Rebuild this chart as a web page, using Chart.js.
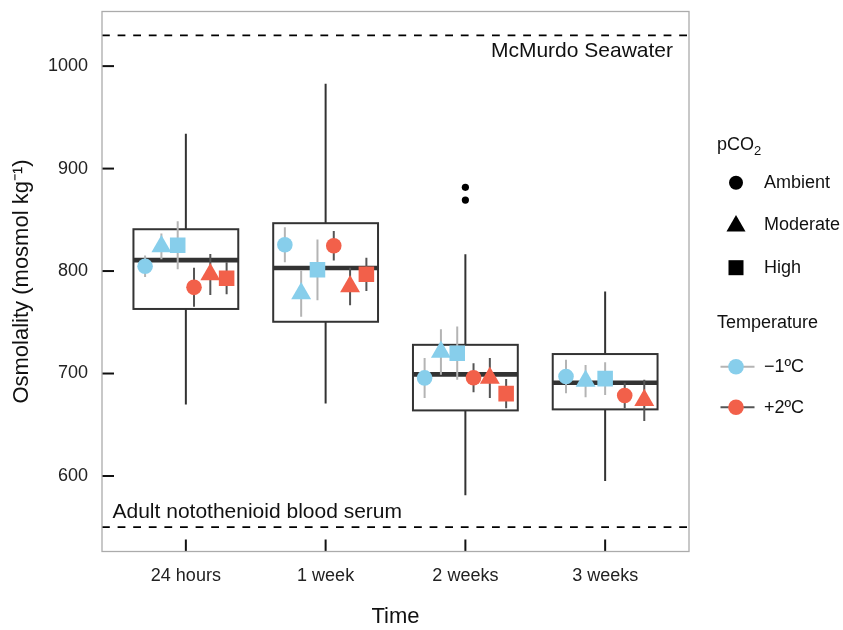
<!DOCTYPE html>
<html><head><meta charset="utf-8">
<script src="https://cdn.jsdelivr.net/npm/chart.js@4.4.0/dist/chart.umd.min.js"></script>
<style>html,body{margin:0;padding:0;background:#fff;}#wrap{width:843px;height:630px;position:relative;}</style>
</head><body><div id="wrap"><canvas id="c" width="843" height="630"></canvas></div>
<script>
// ---- data ----
const timeLabels = ['24 hours', '1 week', '2 weeks', '3 weeks'];
const boxLower   = [763.0, 750.5, 664.0, 665.0];
const boxMedian  = [810.7, 803.0, 699.2, 691.0];
const boxUpper   = [840.8, 846.7, 728.0, 719.0];
const whiskerLow = [669.7, 670.7, 581.2, 595.0];
const whiskerHigh= [934.0, 982.8, 816.5, 780.0];
const outlierValues = [[], [], [881.7, 869.3], []];
const seawaterLevel = 1030;
const serumLevel = 550;
const yTickValues = [600, 700, 800, 900, 1000];

const coldAmbientMean  = [804.7, 825.7, 695.7, 697.1];
const coldAmbientErr   = [10.5, 17.0, 19.5, 16.4];
const coldModerateMean = [824.0, 778.0, 721.1, 692.6];
const coldModerateErr  = [12.6, 22.7, 22.2, 15.7];
const coldHighMean     = [825.2, 801.2, 719.8, 695.0];
const coldHighErr      = [23.5, 29.6, 26.0, 15.9];
const warmAmbientMean  = [784.1, 824.7, 695.8, 678.5];
const warmAmbientErr   = [19.0, 14.3, 14.1, 12.4];
const warmModerateMean = [796.7, 784.9, 695.7, 673.8];
const warmModerateErr  = [20.0, 18.3, 19.5, 20.2];
const warmHighMean     = [793.0, 796.8, 680.4, null];
const warmHighErr      = [15.7, 16.2, 14.3, null];

// ---- styling ----
const FONT = "'Liberation Sans', Arial, Helvetica, sans-serif";
const BLUE = '#87CEEB', RED = '#F2604A';
const BLUE_BAR = '#B4B4B4', RED_BAR = '#555555';
const shapeRadius = {circle: 7.8, triangle: 11.5, rect: 11};

const series = [
  {mean: coldAmbientMean,  err: coldAmbientErr,  shape: 'circle',   color: BLUE, bar: BLUE_BAR},
  {mean: coldModerateMean, err: coldModerateErr, shape: 'triangle', color: BLUE, bar: BLUE_BAR},
  {mean: coldHighMean,     err: coldHighErr,     shape: 'rect',     color: BLUE, bar: BLUE_BAR},
  {mean: warmAmbientMean,  err: warmAmbientErr,  shape: 'circle',   color: RED,  bar: RED_BAR},
  {mean: warmModerateMean, err: warmModerateErr, shape: 'triangle', color: RED,  bar: RED_BAR},
  {mean: warmHighMean,     err: warmHighErr,     shape: 'rect',     color: RED,  bar: RED_BAR}
];

// dodge positions (width 0.7) among non-missing series in each group
const DODGE = 0.7;
const seriesPoints = series.map(() => []);
timeLabels.forEach((lab, g) => {
  const present = series.map((s, i) => s.mean[g] == null ? -1 : i).filter(i => i >= 0);
  const n = present.length;
  present.forEach((si, k) => {
    const s = series[si];
    seriesPoints[si].push({x: g + 1 + (k - (n - 1) / 2) * DODGE / n, y: s.mean[g], err: s.err[g]});
  });
});

const datasets = series.map((s, i) => ({
  type: 'scatter',
  data: seriesPoints[i],
  pointStyle: s.shape,
  pointRadius: shapeRadius[s.shape],
  pointHoverRadius: shapeRadius[s.shape],
  backgroundColor: s.color,
  borderWidth: 0,
  errColor: s.bar
}));
const outlierData = [];
outlierValues.forEach((arr, g) => arr.forEach(v => outlierData.push({x: g + 1, y: v})));
datasets.unshift({type: 'scatter', data: outlierData, pointStyle: 'circle', pointRadius: 3.6,
  backgroundColor: '#000', borderWidth: 0});

const decor = {
  id: 'decor',
  beforeDatasetsDraw(chart) {
    const ctx = chart.ctx, xs = chart.scales.x, ys = chart.scales.y, a = chart.chartArea;
    ctx.save();
    ctx.beginPath(); ctx.rect(a.left, a.top, a.right - a.left, a.bottom - a.top); ctx.clip();
    // reference lines
    ctx.strokeStyle = '#000'; ctx.lineWidth = 1.8; ctx.setLineDash([7.8, 7.8]);
    [seawaterLevel, serumLevel].forEach(v => {
      const y = ys.getPixelForValue(v);
      ctx.beginPath(); ctx.moveTo(a.left, y); ctx.lineTo(a.right, y); ctx.stroke();
    });
    ctx.setLineDash([]);
    ctx.fillStyle = '#111'; ctx.font = '21px ' + FONT; ctx.textBaseline = 'alphabetic';
    ctx.textAlign = 'right';
    ctx.fillText('McMurdo Seawater', a.right - 16, ys.getPixelForValue(seawaterLevel) + 21.5);
    ctx.textAlign = 'left';
    ctx.fillText('Adult notothenioid blood serum', a.left + 10.5, ys.getPixelForValue(serumLevel) - 9.5);
    // boxplots
    ctx.strokeStyle = '#333';
    timeLabels.forEach((lab, g) => {
      const cx = xs.getPixelForValue(g + 1);
      const hw = xs.getPixelForValue(g + 1 + 0.375) - cx;
      const yU = ys.getPixelForValue(boxUpper[g]), yL = ys.getPixelForValue(boxLower[g]);
      const yM = ys.getPixelForValue(boxMedian[g]);
      ctx.lineWidth = 2;
      ctx.beginPath();
      ctx.moveTo(cx, ys.getPixelForValue(whiskerHigh[g])); ctx.lineTo(cx, yU);
      ctx.moveTo(cx, yL); ctx.lineTo(cx, ys.getPixelForValue(whiskerLow[g]));
      ctx.stroke();
      ctx.fillStyle = '#fff';
      ctx.fillRect(cx - hw, yU, 2 * hw, yL - yU);
      ctx.strokeRect(cx - hw, yU, 2 * hw, yL - yU);
      ctx.lineWidth = 4.6;
      ctx.beginPath(); ctx.moveTo(cx - hw, yM); ctx.lineTo(cx + hw, yM); ctx.stroke();
    });
    // error bars
    ctx.lineWidth = 2;
    chart.data.datasets.forEach(ds => {
      if (!ds.errColor) return;
      ctx.strokeStyle = ds.errColor;
      ds.data.forEach(p => {
        const x = xs.getPixelForValue(p.x);
        ctx.beginPath();
        ctx.moveTo(x, ys.getPixelForValue(p.y + p.err));
        ctx.lineTo(x, ys.getPixelForValue(p.y - p.err));
        ctx.stroke();
      });
    });
    ctx.restore();
  },
  afterDatasetsDraw(chart) {
    const ctx = chart.ctx, xs = chart.scales.x, ys = chart.scales.y, a = chart.chartArea;
    ctx.save();
    // ticks inside the panel
    ctx.strokeStyle = '#111'; ctx.lineWidth = 2;
    yTickValues.forEach(v => {
      const y = ys.getPixelForValue(v);
      ctx.beginPath(); ctx.moveTo(a.left, y); ctx.lineTo(a.left + 12, y); ctx.stroke();
    });
    timeLabels.forEach((l, g) => {
      const x = xs.getPixelForValue(g + 1);
      ctx.beginPath(); ctx.moveTo(x, a.bottom); ctx.lineTo(x, a.bottom - 12); ctx.stroke();
    });
    // panel border
    ctx.strokeStyle = '#ABABAB'; ctx.lineWidth = 1.3;
    ctx.strokeRect(a.left, a.top, a.right - a.left, a.bottom - a.top);
    // legend
    const tx = 764, kx = 736;
    ctx.fillStyle = '#111'; ctx.textBaseline = 'middle'; ctx.textAlign = 'left';
    ctx.font = '18px ' + FONT;
    ctx.fillText('pCO', 717, 145);
    const w = ctx.measureText('pCO').width;
    ctx.font = '13px ' + FONT;
    ctx.fillText('2', 717 + w, 151);
    ctx.font = '18px ' + FONT;
    ctx.fillText('Ambient', tx, 183);
    ctx.fillText('Moderate', tx, 225);
    ctx.fillText('High', tx, 268);
    ctx.fillText('Temperature', 717, 323);
    ctx.fillText('\u22121\u00BAC', tx, 367);
    ctx.fillText('+2\u00BAC', tx, 408);
    ctx.fillStyle = '#000';
    ctx.beginPath(); ctx.arc(kx, 182.7, 7, 0, Math.PI * 2); ctx.fill();
    const tr = 11, tcy = 226;
    ctx.beginPath();
    ctx.moveTo(kx, tcy - tr);
    ctx.lineTo(kx + tr * Math.sqrt(3) / 2, tcy + tr / 2);
    ctx.lineTo(kx - tr * Math.sqrt(3) / 2, tcy + tr / 2);
    ctx.closePath(); ctx.fill();
    ctx.fillRect(kx - 7.5, 267.7 - 7.5, 15, 15);
    [[366.7, BLUE_BAR, BLUE], [407.3, RED_BAR, RED]].forEach(([y, lc, fc]) => {
      ctx.strokeStyle = lc; ctx.lineWidth = 2;
      ctx.beginPath(); ctx.moveTo(720.5, y); ctx.lineTo(754.5, y); ctx.stroke();
      ctx.fillStyle = fc;
      ctx.beginPath(); ctx.arc(kx, y, 7.8, 0, Math.PI * 2); ctx.fill();
    });
    ctx.restore();
  }
};

new Chart(document.getElementById('c'), {
  type: 'scatter',
  data: {datasets},
  options: {
    responsive: false, animation: false, devicePixelRatio: 1,
    layout: {padding: {left: 0, right: 154, top: 9.5, bottom: 0}},
    plugins: {legend: {display: false}, tooltip: {enabled: false}},
    scales: {
      x: {
        type: 'linear', min: 0.4, max: 4.6,
        afterBuildTicks: s => { s.ticks = timeLabels.map((_, i) => ({value: i + 1})); },
        afterFit: s => { s.height = 78.5; s.paddingLeft = 0; s.paddingRight = 0; },
        grid: {display: false, drawTicks: false}, border: {display: false},
        ticks: {autoSkip: false, maxRotation: 0, padding: 14, color: '#222',
          font: {size: 18, family: FONT}, callback: (v, i) => timeLabels[i]},
        title: {display: true, text: 'Time', color: '#111', font: {size: 22, family: FONT},
          padding: {top: 0, bottom: 0}}
      },
      y: {
        type: 'linear', min: 526.3, max: 1053.3,
        afterBuildTicks: s => { s.ticks = yTickValues.map(v => ({value: v})); },
        afterFit: s => { s.width = 102; s.paddingTop = 0; s.paddingBottom = 0; },
        grid: {display: false, drawTicks: false}, border: {display: false},
        ticks: {padding: 14, color: '#222', font: {size: 18, family: FONT},
          callback: v => String(v)},
        title: {display: true, text: 'Osmolality (mosmol kg\u207B\u00B9)', color: '#111',
          font: {size: 22, family: FONT}, padding: {top: 9, bottom: 0}}
      }
    }
  },
  plugins: [decor]
});
</script></body></html>
